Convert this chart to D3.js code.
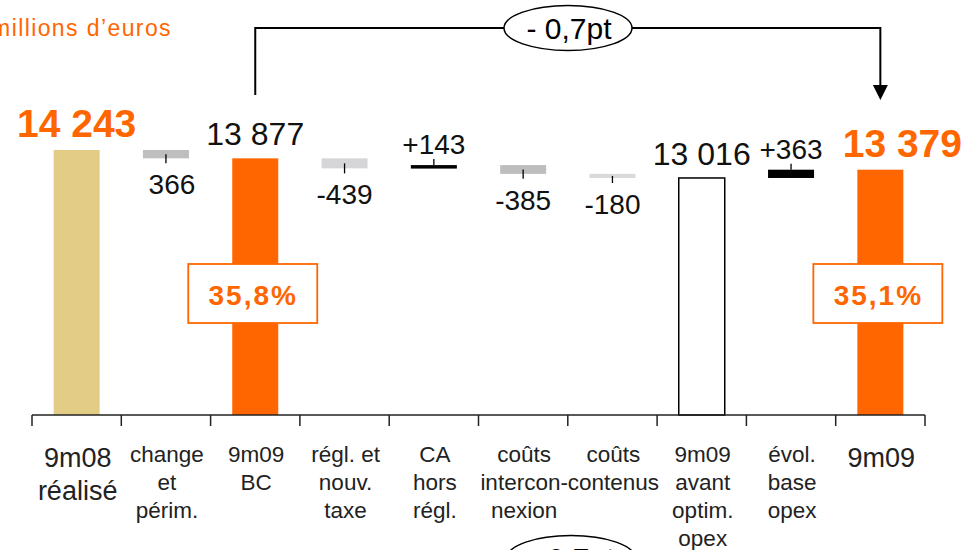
<!DOCTYPE html>
<html>
<head>
<meta charset="utf-8">
<script src="https://cdn.jsdelivr.net/npm/d3@7"></script>
<style>
  body { margin: 0; background: #fff; }
  svg { display: block; font-family: "Liberation Sans", Arial, sans-serif; }
</style>
</head>
<body>
<div id="chart"></div>
<script>
// categories, one array of lines per column label
var categories = ["9m08 réalisé", "change et périm.", "9m09 BC", "régl. et nouv. taxe", "CA hors régl.",
    "coûts interconnexion", "coûts contenus", "9m09 avant optim. opex", "évol. base opex", "9m09"];
var categoryLines = [
    ["9m08", "réalisé"], ["change", "et", "périm."], ["9m09", "BC"], ["régl. et", "nouv.", "taxe"],
    ["CA", "hors", "régl."], ["coûts", "intercon-", "nexion"], ["coûts", "contenus"],
    ["9m09", "avant", "optim.", "opex"], ["évol.", "base", "opex"], ["9m09"]
];
// total = full bar, otherwise change from previous level
var values = [14243, -366, 13877, -439, 143, -385, -180, 13016, 363, 13379];
var isTotal = [true, false, true, false, false, false, false, true, false, true];
var valueLabels = ["14 243", "366", "13 877", "-439", "+143", "-385", "-180", "13 016", "+363", "13 379"];
var margins = [null, null, "35,8%", null, null, null, null, null, null, "35,1%"];
var marginChange = "- 0,7pt";
var unitLabel = "millions d’euros";

var orange = "#ff6600";
var barColors = ["#e3cc86", "#bebebe", orange, "#d6d6d8", "#000", "#bebebe", "#d9d9d9", "#fff", "#000", orange];

var width = 963, height = 550;
var svg = d3.select("#chart").append("svg")
    .attr("width", width)
    .attr("height", height);

var x = d3.scaleBand().domain(categories).range([32, 925]).paddingInner(0).paddingOuter(0);
// truncated value axis, as in the original slide
var y = d3.scaleLinear().domain([2620, 14243]).range([415, 150]);
var barW = 46;

// running level for the waterfall
var level = 0;
var bars = values.map(function(v, i) {
    var from, to;
    if (isTotal[i]) { from = 2620; to = v; level = v; }
    else { from = level; to = level + v; level = to; }
    return {cat: categories[i], from: from, to: to, v: v, i: i};
});

var cx = function(d) { return x(d.cat) + x.bandwidth() / 2; };

// bars
svg.selectAll("rect.bar")
    .data(bars)
    .enter()
    .append("rect")
    .attr("class", "bar")
    .attr("x", function(d) { return cx(d) - barW / 2; })
    .attr("y", function(d) { return y(Math.max(d.from, d.to)); })
    .attr("width", barW)
    .attr("height", function(d) { return Math.max(3.5, Math.abs(y(d.from) - y(d.to))); })
    .style("fill", function(d) { return barColors[d.i]; })
    .style("stroke", function(d) { return d.i == 7 ? "#000" : "none"; })
    .style("stroke-width", 1.5);

// little marker on the change bars
svg.selectAll("line.mark")
    .data(bars.filter(function(d) { return !isTotal[d.i]; }))
    .enter()
    .append("line")
    .attr("class", "mark")
    .attr("x1", cx).attr("x2", cx)
    .attr("y1", function(d) {
        return d.v < 0 ? (y(d.from) + y(d.to)) / 2 : y(d.to);
    })
    .attr("y2", function(d) {
        return d.v < 0 ? y(d.to) + 5 : y(d.to) - 6;
    })
    .style("stroke", "#000")
    .style("stroke-width", 1.3);

// value labels
var labelDx = {9: 22, 1: 6};
svg.selectAll("text.value")
    .data(bars)
    .enter()
    .append("text")
    .attr("class", "value")
    .attr("x", function(d) { return cx(d) + (labelDx[d.i] || 0); })
    .attr("y", function(d) {
        if (isTotal[d.i]) return y(d.to) - 13;
        if (d.v < 0) return y(d.to) + 36;
        return y(d.to) - 11;
    })
    .attr("text-anchor", "middle")
    .style("font-size", function(d) {
        if (d.i == 0 || d.i == 9) return "39px";
        return isTotal[d.i] ? "32px" : "28px";
    })
    .style("font-weight", function(d) { return (d.i == 0 || d.i == 9) ? "bold" : "normal"; })
    .style("fill", function(d) { return (d.i == 0 || d.i == 9) ? orange : "#111"; })
    .text(function(d) { return valueLabels[d.i]; });

// margin boxes
var mg = svg.selectAll("g.margin")
    .data(bars.filter(function(d) { return margins[d.i]; }))
    .enter()
    .append("g")
    .attr("class", "margin")
    .attr("transform", function(d) { return "translate(" + (cx(d) - 3) + ",0)"; });
mg.append("rect")
    .attr("x", -64).attr("y", 264)
    .attr("width", 129).attr("height", 59)
    .style("fill", "#fff")
    .style("stroke", orange)
    .style("stroke-width", 1.8);
mg.append("text")
    .attr("x", 1)
    .attr("y", 305)
    .attr("text-anchor", "middle")
    .style("font-size", "28px")
    .style("font-weight", "bold")
    .style("letter-spacing", "2px")
    .style("fill", orange)
    .text(function(d) { return margins[d.i]; });

// axis line and band ticks
svg.append("line")
    .attr("x1", x.range()[0]).attr("x2", x.range()[1])
    .attr("y1", 415).attr("y2", 415)
    .style("stroke", "#222").style("stroke-width", 1.5);
var bounds = categories.map(function(c) { return x(c); }).concat([x.range()[1]]);
svg.selectAll("line.tick")
    .data(bounds)
    .enter()
    .append("line")
    .attr("class", "tick")
    .attr("x1", function(d) { return d; }).attr("x2", function(d) { return d; })
    .attr("y1", 415).attr("y2", 426)
    .style("stroke", "#222").style("stroke-width", 1.5);

// category labels
svg.selectAll("text.cat")
    .data(categories)
    .enter()
    .append("text")
    .attr("class", "cat")
    .attr("text-anchor", "middle")
    .style("fill", "#222")
    .style("font-size", function(d, i) { return (i == 0 || i == 9) ? "27px" : "22.5px"; })
    .each(function(d, i) {
        var big = (i == 0 || i == 9);
        var t = d3.select(this);
        categoryLines[i].forEach(function(line, k) {
            t.append("tspan")
                .attr("x", x(d) + x.bandwidth() / 2 + 1)
                .attr("y", (big ? 467 : 462) + k * (big ? 33 : 28))
                .text(line);
        });
    });

// unit
svg.append("text")
    .attr("x", 172)
    .attr("y", 36)
    .attr("text-anchor", "end")
    .style("font-size", "23px")
    .style("letter-spacing", "1.4px")
    .style("fill", orange)
    .text(unitLabel);

// bracket with arrow from 9m09 BC to 9m09
var x1 = cx(bars[2]), x2 = cx(bars[9]);
svg.append("path")
    .attr("d", "M" + x1 + ",95 V28 H" + x2 + " V86")
    .style("fill", "none")
    .style("stroke", "#000")
    .style("stroke-width", 2);
svg.append("path")
    .attr("d", "M" + (x2 - 7.5) + ",85 L" + (x2 + 7.5) + ",85 L" + x2 + ",100 Z")
    .style("fill", "#000");

var bubbles = [{cx: 568, cy: 28}, {cx: 571, cy: 558}];
bubbles.forEach(function(b) {
    svg.append("ellipse")
        .attr("cx", b.cx).attr("cy", b.cy)
        .attr("rx", 64).attr("ry", 22.5)
        .style("fill", "#fff")
        .style("stroke", "#000")
        .style("stroke-width", 1.5);
    svg.append("text")
        .attr("x", b.cx + 1).attr("y", b.cy + 11)
        .attr("text-anchor", "middle")
        .style("font-size", "30px")
        .style("fill", "#000")
        .text(marginChange);
});
</script>
</body>
</html>
